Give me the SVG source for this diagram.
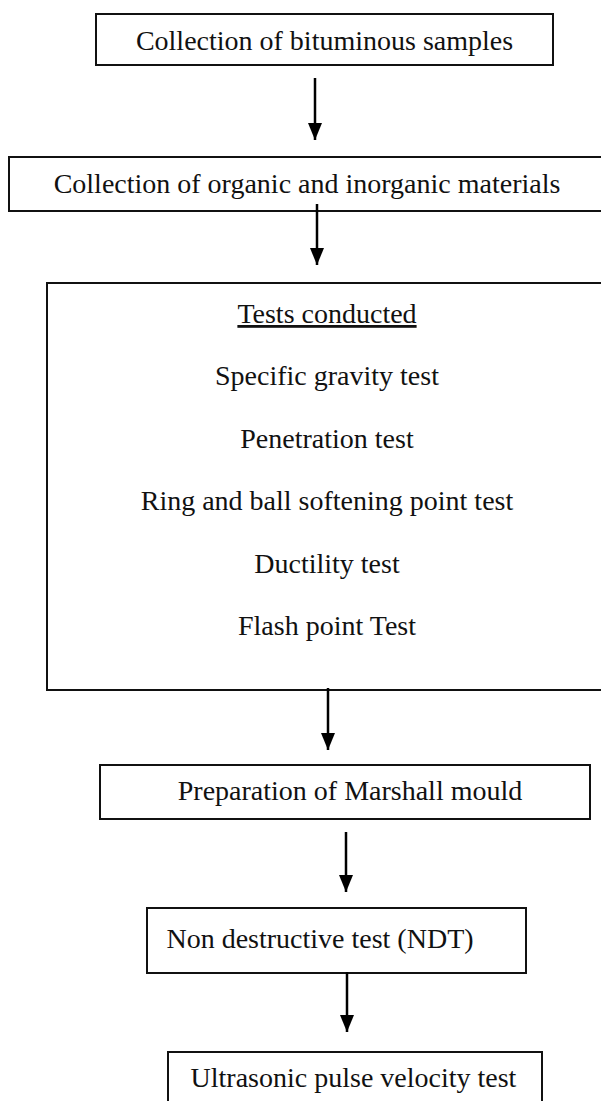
<svg xmlns="http://www.w3.org/2000/svg" width="601" height="1101" viewBox="0 0 601 1101">
  <defs>
    <marker id="arrowhead" markerWidth="17" markerHeight="14" refX="17" refY="7" orient="auto" markerUnits="userSpaceOnUse" viewBox="0 0 17 14">
      <path d="M0,0 L17,7 L0,14 Z" fill="#000"/>
    </marker>
  </defs>
  <style>
    .box { fill: #fff; stroke: #111; stroke-width: 2; }
    .label { font-family: "Liberation Serif", "DejaVu Serif", serif; font-size: 28px; fill: #111; text-anchor: middle; }
    .flow { stroke: #000; stroke-width: 2.5; fill: none; }
  </style>

  <rect width="601" height="1101" fill="#fff"/>

  <g id="n1">
    <rect class="box" x="96" y="14" width="457" height="51"/>
    <text class="label" x="324.5" y="50">Collection of bituminous samples</text>
  </g>

  <g id="n2">
    <rect class="box" x="9" y="157" width="600" height="54"/>
    <text class="label" x="307" y="193">Collection of organic and inorganic materials</text>
  </g>

  <g id="n3">
    <rect class="box" x="47" y="283" width="562" height="407"/>
    <text class="label" x="327" y="323" text-decoration="underline">Tests conducted</text>
    <text class="label" x="327" y="385">Specific gravity test</text>
    <text class="label" x="327" y="448">Penetration test</text>
    <text class="label" x="327" y="510">Ring and ball softening point test</text>
    <text class="label" x="327" y="573">Ductility test</text>
    <text class="label" x="327" y="635">Flash point Test</text>
  </g>

  <g id="n4">
    <rect class="box" x="100" y="765" width="490" height="54"/>
    <text class="label" x="350" y="800">Preparation of Marshall mould</text>
  </g>

  <g id="n5">
    <rect class="box" x="147" y="908" width="379" height="65"/>
    <text class="label" x="320" y="948">Non destructive test (NDT)</text>
  </g>

  <g id="n6">
    <rect class="box" x="168" y="1052" width="374" height="60"/>
    <text class="label" x="353.5" y="1087">Ultrasonic pulse velocity test</text>
  </g>

  <g id="connectors">
    <line class="flow" x1="315" y1="78" x2="315" y2="140" marker-end="url(#arrowhead)"/>
    <line class="flow" x1="317" y1="204" x2="317" y2="265" marker-end="url(#arrowhead)"/>
    <line class="flow" x1="328" y1="688" x2="328" y2="750" marker-end="url(#arrowhead)"/>
    <line class="flow" x1="346" y1="832" x2="346" y2="892" marker-end="url(#arrowhead)"/>
    <line class="flow" x1="347" y1="972" x2="347" y2="1032" marker-end="url(#arrowhead)"/>
  </g>
</svg>
